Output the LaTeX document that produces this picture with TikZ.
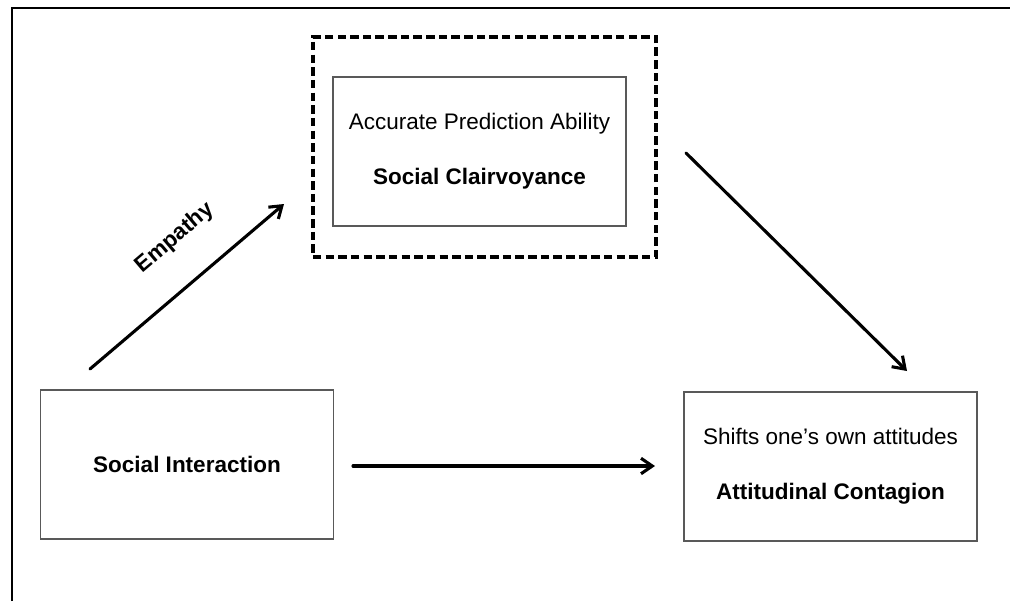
\documentclass[tikz,border=0pt]{standalone}
\usepackage{fontspec}
\setmainfont{Liberation Sans}
\usepackage{tikz}
\usepackage{tkz-euclide}
\usetikzlibrary{calc}
\usetikzlibrary{arrows.meta}

\tikzset{
  box/.style={draw=black!65, line width=1pt, minimum width=7.33cm, minimum height=3.73cm,
    align=center, inner sep=0pt, font=\fontsize{16}{19}\selectfont},
  arr/.style={line width=2.2pt, -{Straight Barb[length=8pt,width=11pt]}},
}

\begin{document}
\begin{tikzpicture}[x=0.025cm,y=-0.025cm]
                    \useasboundingbox (0,0) rectangle (1010,601);
                    \draw[line width=1.5pt] (11.7,601) -- (11.7,7.7) -- (1010,7.7);

                    \node[draw, line width=2.4pt, dash pattern=on 6pt off 3pt,
                      minimum width=8.575cm, minimum height=5.5cm] (mediator) at (484.5,147) {};
                    \node[box] (clair) at (479.5,151.5)
                      {Accurate Prediction Ability\\[20pt]\textbf{Social Clairvoyance}};

                    \node[box] (inter) at (187,464.5) {\textbf{Social Interaction}};
                    \node[box] (conta) at (830.5,466.5)
                      {Shifts one’s own attitudes\\[20pt]\textbf{Attitudinal Contagion}};

                    \tkzDefPoint(90,369){E1}
                    \tkzDefPoint(284,204){E2}
                    \tkzDrawSegment[arr](E1,E2)
                    \node[rotate=40.4, font=\bfseries\fontsize{16}{19}\selectfont] (empathy) at (175,238) {Empathy};

                    \tkzDefPoint(686,153){C1}
                    \tkzDefPoint(907,371){C2}
                    \tkzDrawSegment[arr](C1,C2)

                    \tkzDefPoint(353,466){H1}
                    \tkzDefPoint(655,466){H2}
                    \tkzDrawSegment[arr](H1,H2)
                \end{tikzpicture}
\end{document}
